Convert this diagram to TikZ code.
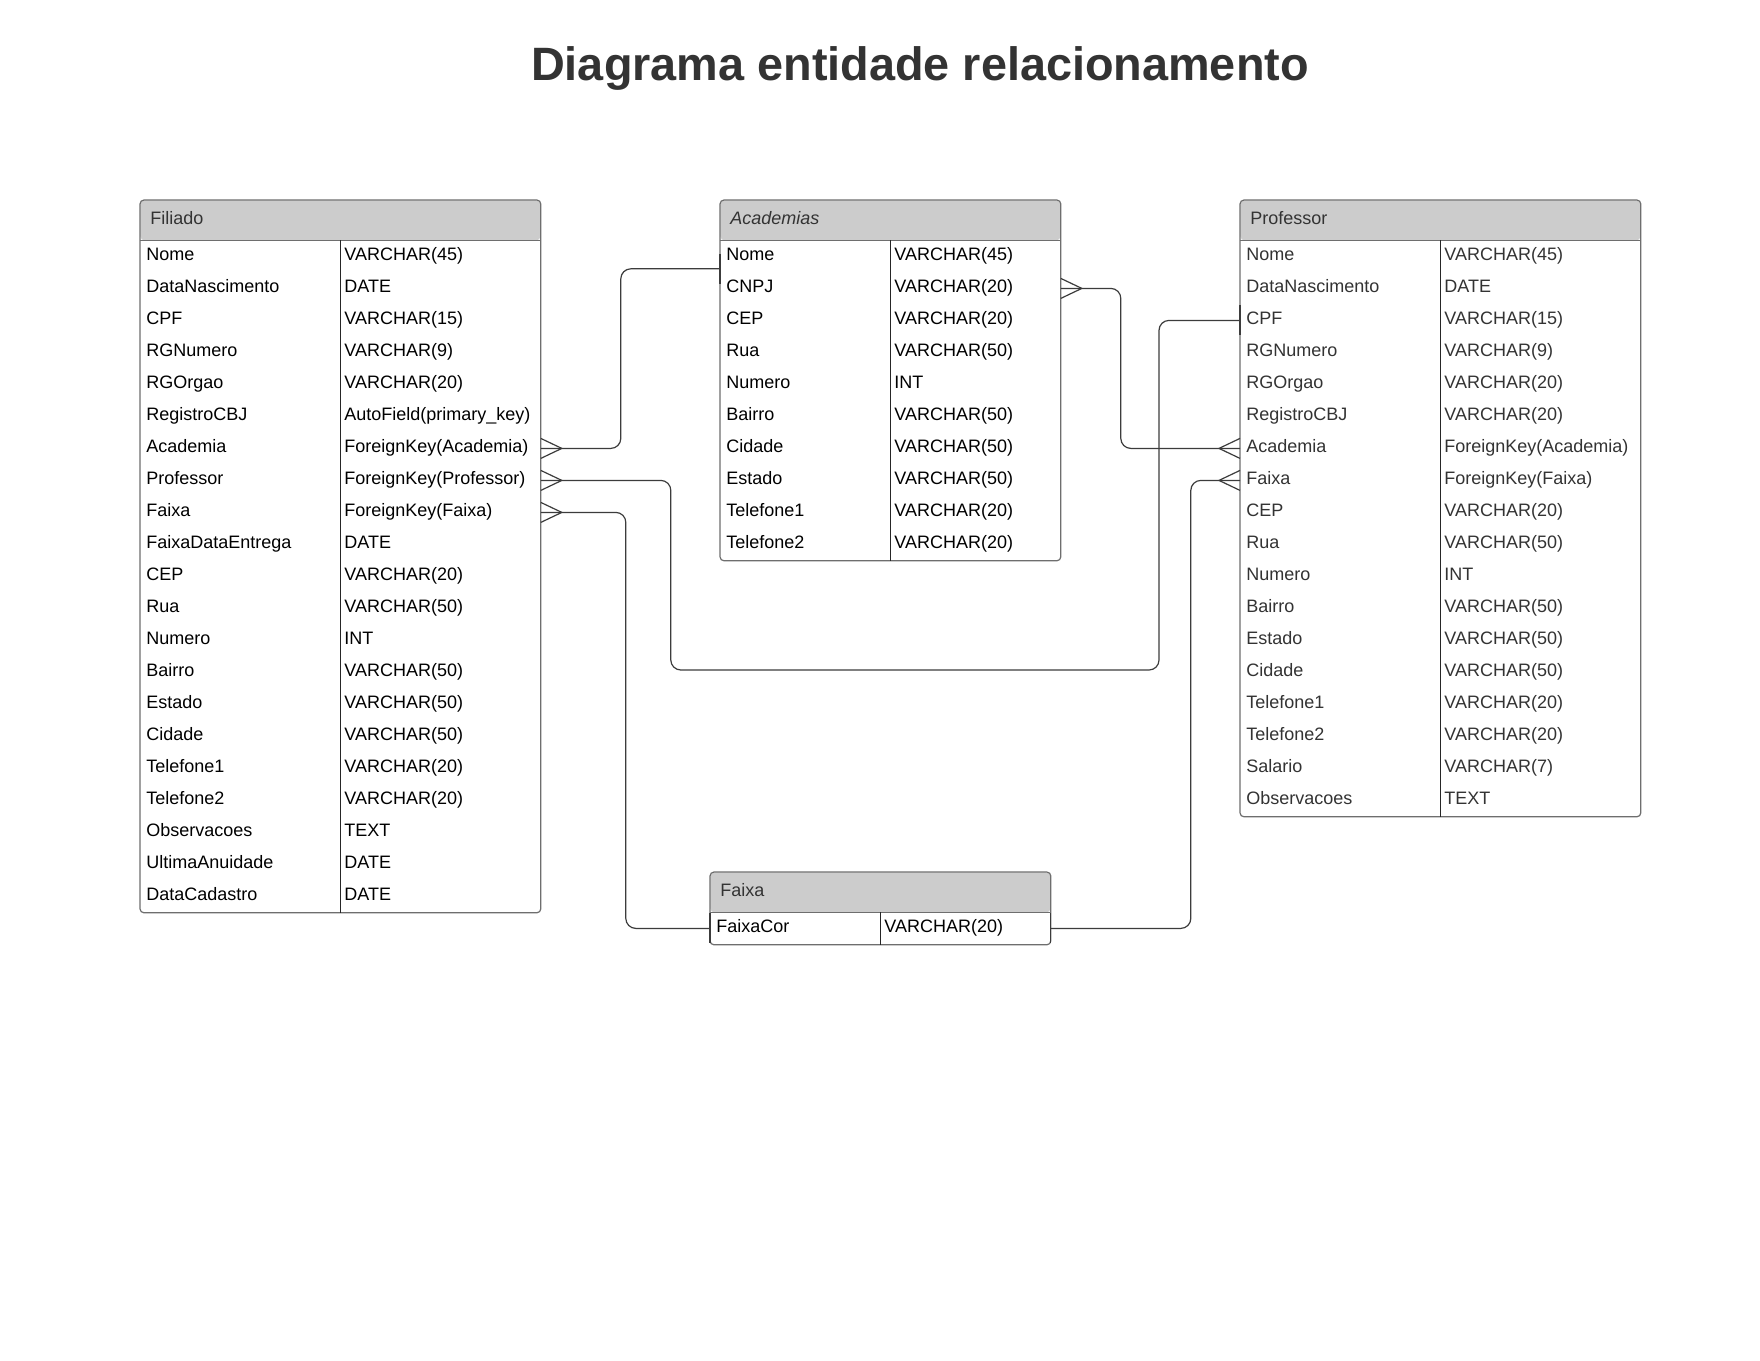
\documentclass[tikz,border=0pt]{standalone}
\usepackage{fontspec}
\setmainfont{Liberation Sans}

\definecolor{hdrgrey}{HTML}{CCCCCC}
\definecolor{framegrey}{HTML}{6E6E6E}
\definecolor{linegrey}{HTML}{3C3C3C}
\definecolor{txtdark}{HTML}{333333}

\begin{document}
\begin{tikzpicture}[
    x=0.5pt, y=-0.5pt,
    every node/.style={font=\fontsize{9pt}{11pt}\selectfont, inner sep=0pt},
    hdr/.style={rectangle, anchor=north west, fill=hdrgrey, rounded corners=2pt,
        minimum height=20pt, inner xsep=5pt, align=left,
        text height=6.5pt, text depth=2.5pt, text=txtdark},
    namecell/.style={rectangle, anchor=north west, minimum height=16pt,
        inner xsep=3pt, align=left, text height=6.5pt, text depth=2.5pt},
    typecell/.style={namecell, inner xsep=2pt},
    frame/.style={draw=framegrey, line width=0.6pt, rounded corners=2pt},
    divline/.style={draw=black!85, line width=0.5pt},
    conn/.style={draw=linegrey, line width=0.6pt, rounded corners=5pt},
    crow/.pic={\draw[conn, rounded corners=0pt] (0,-10) -- (21,0) -- (0,10);},
    onebar/.pic={\draw[conn] (0,-15) -- (0,15);}
]
\fill[white] (0,0) rectangle (1760,1360);
\useasboundingbox (0,0) rectangle (1760,1360);

\node[font=\fontsize{23.4pt}{28pt}\selectfont\bfseries, text=txtdark, anchor=base]
    (title) at (920,80) {Diagrama entidade relacionamento};

% Filiado
\node[hdr, text width=190pt] (filiado) at (140,200) {Filiado};
\foreach \a/\b [count=\i] in {Nome/VARCHAR(45), DataNascimento/DATE, CPF/VARCHAR(15),
    RGNumero/VARCHAR(9), RGOrgao/VARCHAR(20), RegistroCBJ/AutoField(primary\_key),
    Academia/ForeignKey(Academia), Professor/ForeignKey(Professor), Faixa/ForeignKey(Faixa),
    FaixaDataEntrega/DATE, CEP/VARCHAR(20), Rua/VARCHAR(50), Numero/INT, Bairro/VARCHAR(50),
    Estado/VARCHAR(50), Cidade/VARCHAR(50), Telefone1/VARCHAR(20), Telefone2/VARCHAR(20),
    Observacoes/TEXT, UltimaAnuidade/DATE, DataCadastro/DATE}
{
  \node[namecell, text width=94pt] (fil-n\i) at (140,208+32*\i) {\a};
  \node[typecell, text width=96pt] (fil-t\i) at (340,208+32*\i) {\b};
}
\draw[frame] (filiado.north west) rectangle (fil-t21.south east);
\draw[frame, rounded corners=0pt] (filiado.south west) -- (filiado.south east);
\draw[divline] (fil-t1.north west) -- (fil-t21.south west);

% Academias
\node[hdr, text width=160pt, font=\fontsize{9pt}{11pt}\selectfont\itshape] (academias) at (720,200) {Academias};
\foreach \a/\b [count=\i] in {Nome/VARCHAR(45), CNPJ/VARCHAR(20), CEP/VARCHAR(20),
    Rua/VARCHAR(50), Numero/INT, Bairro/VARCHAR(50), Cidade/VARCHAR(50), Estado/VARCHAR(50),
    Telefone1/VARCHAR(20), Telefone2/VARCHAR(20)}
{
  \node[namecell, text width=79pt] (aca-n\i) at (720,208+32*\i) {\a};
  \node[typecell, text width=81pt] (aca-t\i) at (890,208+32*\i) {\b};
}
\draw[frame] (academias.north west) rectangle (aca-t10.south east);
\draw[frame, rounded corners=0pt] (academias.south west) -- (academias.south east);
\draw[divline] (aca-t1.north west) -- (aca-t10.south west);

% Professor
\node[hdr, text width=190pt] (professor) at (1240,200) {Professor};
\foreach \a/\b [count=\i] in {Nome/VARCHAR(45), DataNascimento/DATE, CPF/VARCHAR(15),
    RGNumero/VARCHAR(9), RGOrgao/VARCHAR(20), RegistroCBJ/VARCHAR(20),
    Academia/ForeignKey(Academia), Faixa/ForeignKey(Faixa), CEP/VARCHAR(20), Rua/VARCHAR(50),
    Numero/INT, Bairro/VARCHAR(50), Estado/VARCHAR(50), Cidade/VARCHAR(50),
    Telefone1/VARCHAR(20), Telefone2/VARCHAR(20), Salario/VARCHAR(7), Observacoes/TEXT}
{
  \node[namecell, text width=94pt, text=txtdark] (pro-n\i) at (1240,208+32*\i) {\a};
  \node[typecell, text width=96pt, text=txtdark] (pro-t\i) at (1440,208+32*\i) {\b};
}
\draw[frame] (professor.north west) rectangle (pro-t18.south east);
\draw[frame, rounded corners=0pt] (professor.south west) -- (professor.south east);
\draw[divline] (pro-t1.north west) -- (pro-t18.south west);

% Faixa
\node[hdr, text width=160pt] (faixa) at (710,872) {Faixa};
\node[namecell, text width=79pt] (fx-n1) at (710,912) {FaixaCor};
\node[typecell, text width=81pt] (fx-t1) at (880,912) {VARCHAR(20)};
\draw[frame] (faixa.north west) rectangle (fx-t1.south east);
\draw[frame, rounded corners=0pt] (faixa.south west) -- (faixa.south east);
\draw[divline] (fx-t1.north west) -- (fx-t1.south west);

% relacionamentos
\draw[conn] (fil-t7.east) -- ++(80,0) |- ([yshift=2pt]aca-n1.south west);
\draw[conn] (aca-t2.east) -- ++(60,0) |- (pro-n7.west);
\draw[conn] (fil-t8.east) -- ++(130,0) |- (1159,670) |- (pro-n3.west);
\draw[conn] (fil-t9.east) -- ++(85,0) |- (fx-n1.west);
\draw[conn] (fx-t1.east) -- ++(140,0) |- (pro-n8.west);

\path (fil-t7.east) pic {crow} (fil-t8.east) pic {crow} (fil-t9.east) pic {crow}
      (aca-t2.east) pic {crow};
\path (pro-n7.west) pic[rotate=180] {crow} (pro-n8.west) pic[rotate=180] {crow};
\path ([yshift=2pt]aca-n1.south west) pic {onebar} (pro-n3.west) pic {onebar}
      (fx-n1.west) pic {onebar} (fx-t1.east) pic {onebar};
\end{tikzpicture}
\end{document}
